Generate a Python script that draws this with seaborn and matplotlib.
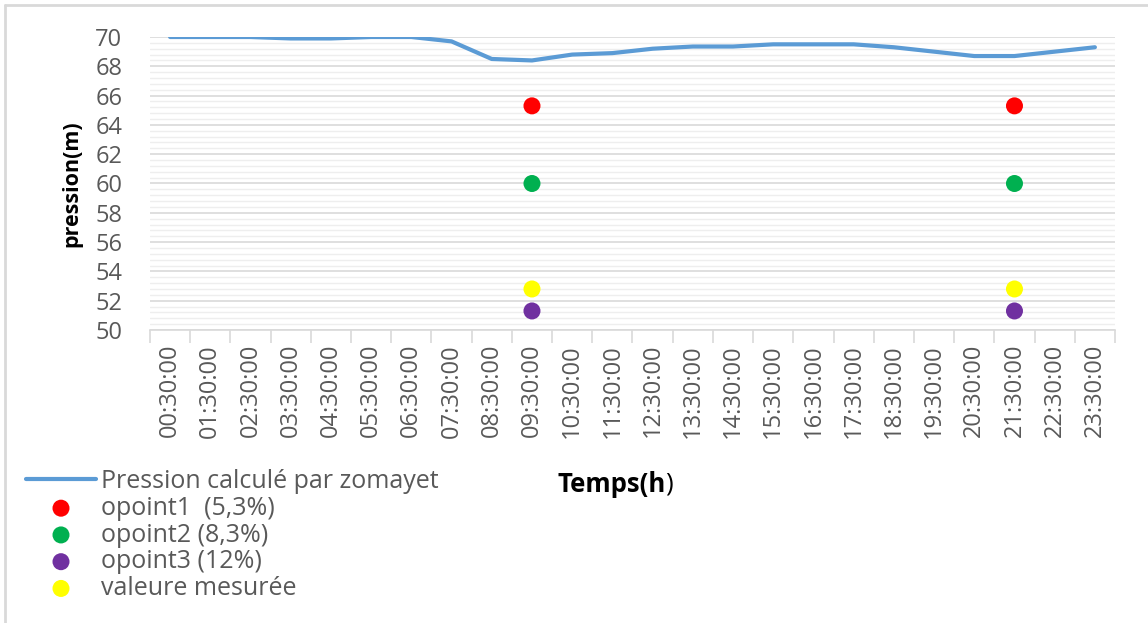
import matplotlib
matplotlib.use("Agg")
import matplotlib.pyplot as plt
from matplotlib.lines import Line2D
from matplotlib.ticker import MultipleLocator, FixedLocator
import numpy as np
import pandas as pd
import seaborn as sns

times = ["00:30:00", "01:30:00", "02:30:00", "03:30:00", "04:30:00", "05:30:00",
         "06:30:00", "07:30:00", "08:30:00", "09:30:00", "10:30:00", "11:30:00",
         "12:30:00", "13:30:00", "14:30:00", "15:30:00", "16:30:00", "17:30:00",
         "18:30:00", "19:30:00", "20:30:00", "21:30:00", "22:30:00", "23:30:00"]
pression = [70.0, 70.0, 70.0, 69.9, 69.9, 70.0, 70.0, 69.7, 68.5, 68.4, 68.8, 68.9,
            69.2, 69.35, 69.35, 69.5, 69.5, 69.5, 69.3, 69.0, 68.7, 68.7, 69.0, 69.3]

point_times = ["09:30:00", "21:30:00"]
opoint1 = [65.3, 65.3]
opoint2 = [60.0, 60.0]
opoint3 = [51.3, 51.3]
mesuree = [52.8, 52.8]

sns.set_theme(style="white")
plt.rcParams['font.family'] = ['Open Sans', 'DejaVu Sans']
gray = "#595959"

fig = plt.figure(figsize=(11.48, 6.23), dpi=100)
ax = fig.add_axes([150/1148, 1-330/623, (1115-150)/1148, (330-37)/623])

df_line = pd.DataFrame({"t": times, "p": pression})
sns.lineplot(data=df_line, x="t", y="p", ax=ax, color="#5B9BD5", linewidth=3,
             label="Pression calculé par zomayet", sort=False)

series = [("opoint1  (5,3%)", opoint1, "#FF0000"),
          ("opoint2 (8,3%)", opoint2, "#00B050"),
          ("opoint3 (12%)", opoint3, "#7030A0"),
          ("valeure mesurée", mesuree, "#FFFF00")]
for name, vals, col in series:
    d = pd.DataFrame({"t": point_times, "p": vals})
    sns.scatterplot(data=d, x="t", y="p", ax=ax, color=col, s=150, edgecolor="none",
                    label=name, zorder=5)

ax.set_ylim(50, 70)
ax.set_xlim(-0.5, len(times) - 0.5)
ax.yaxis.set_major_locator(MultipleLocator(2))
ax.yaxis.set_minor_locator(MultipleLocator(0.4))
ax.grid(which="major", axis="y", color="#d9d9d9", linewidth=1.2)
ax.grid(which="minor", axis="y", color="#eeeeee", linewidth=1.0)
ax.grid(False, axis="x")
ax.set_axisbelow(True)

ax.xaxis.set_minor_locator(FixedLocator(np.arange(-0.5, len(times), 1.0)))
ax.tick_params(axis="x", which="major", length=0, pad=10, labelsize=17,
               labelcolor=gray, rotation=90)
ax.tick_params(axis="x", which="minor", length=9, width=1.2, color="#d9d9d9",
               direction="out", bottom=True)
ax.tick_params(axis="y", which="both", length=0, pad=20, labelsize=17, labelcolor=gray)

for s in ["top", "right", "left"]:
    ax.spines[s].set_visible(False)
ax.spines["bottom"].set_color("#d9d9d9")
ax.spines["bottom"].set_linewidth(1.2)

ax.set_xlabel("")
ax.set_ylabel("pression(m)", fontsize=15.5, fontweight="bold", color="black", labelpad=9)
t1 = fig.text(557/1148, 1-484/623, "Temps(h", fontsize=18.5, fontweight="bold",
              color="black", ha="left", va="center")
fig.canvas.draw()
bb = t1.get_window_extent()
fig.text(bb.x1 / 1148, 1-484/623, ")", fontsize=18.5, color="black",
         ha="left", va="center")

handles, labels = ax.get_legend_handles_labels()
ax.get_legend().remove()
fig.legend(handles, labels, loc="upper left", bbox_to_anchor=(16/1148, 1-459/623),
           frameon=False, fontsize=18, labelcolor=gray, handlelength=2.8,
           handletextpad=0.2, labelspacing=0.07, borderaxespad=0, markerscale=1.0)

fig.add_artist(Line2D([5/1148, 5/1148], [0, 1-5/623], transform=fig.transFigure,
                      color="#d9d9d9", linewidth=2))
fig.add_artist(Line2D([5/1148, 1], [1-5/623, 1-5/623], transform=fig.transFigure,
                      color="#d9d9d9", linewidth=2))

fig.savefig("out.png", dpi=100)
